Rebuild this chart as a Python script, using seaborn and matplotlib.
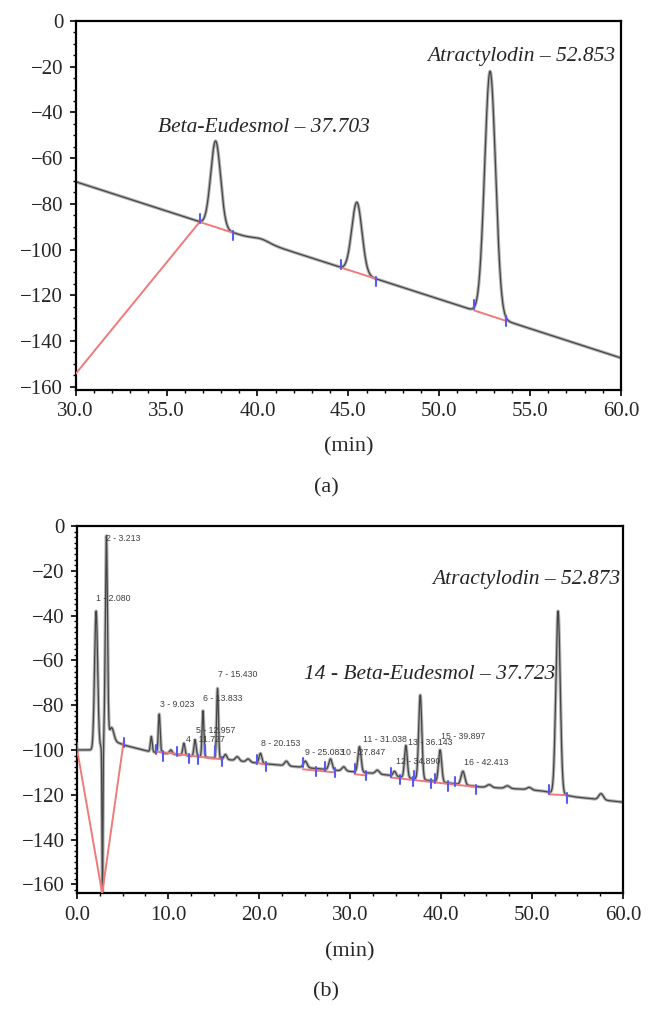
import numpy as np
import pandas as pd
import seaborn as sns
import matplotlib
matplotlib.use('Agg')
import matplotlib.pyplot as plt
from matplotlib.ticker import MultipleLocator, FormatStrFormatter

# ---- panel (a): standards ----
a_base_t = [30.0, 40.0, 60.0]
a_base_v = [-70.3, -96.0, -147.4]
a_peak_rt = [37.70, 40.2, 45.47, 52.80]
a_peak_top = [-52.5, -95.3, -79.3, -22.0]
a_peak_sd = [0.27, 0.45, 0.28, 0.30]
a_red = [[(30.0, -154.3), (36.82, -87.9), (38.65, -92.6)],
         [(44.57, -107.8), (46.50, -112.7)],
         [(51.92, -126.6), (53.69, -131.2)]]
a_mark_start = [36.82, 44.57, 51.92]
a_mark_end = [38.65, 46.50, 53.69]

# ---- panel (b): sample ----
b_base_t = [0.0, 2.0, 4.0, 5.3, 8.0, 12.0, 16.0, 19.0, 23.6, 28.2, 32.8,
            37.4, 44.3, 48.9, 51.1, 54.8, 60.0]
b_base_v = [-100.0, -100.0, -96.0, -98.0, -100.8, -102.5, -104.0, -105.5,
            -107.3, -109.0, -110.5, -113.0, -116.5, -117.5, -118.3, -121.0, -123.3]
b_peak_rt = [2.08, 2.78, 3.21, 3.75, 8.15, 9.02, 10.3, 11.73, 12.96, 13.83,
             15.43, 16.3, 17.6, 18.8, 20.15, 23.0, 25.08, 27.85, 29.3, 31.04,
             33.0, 34.89, 36.14, 37.72, 39.90, 42.41, 45.3, 47.3, 49.7, 52.87, 57.6]
b_peak_top = [-38.0, -168.0, -5.0, -90.0, -94.0, -84.0, -100.0, -97.0, -95.5, -82.5,
              -72.5, -102.0, -103.0, -104.0, -101.5, -105.0, -105.0, -104.0, -107.5, -98.5,
              -109.0, -109.5, -98.0, -75.5, -100.0, -109.5, -115.5, -116.0, -116.7, -38.0, -119.5]
b_peak_sd = [0.17, 0.05, 0.12, 0.25, 0.10, 0.10, 0.15, 0.12, 0.12, 0.10,
             0.10, 0.15, 0.20, 0.20, 0.15, 0.20, 0.20, 0.18, 0.20, 0.17,
             0.20, 0.15, 0.15, 0.17, 0.17, 0.20, 0.25, 0.25, 0.25, 0.24, 0.25]
b_red = [[(0.0, -100.0), (2.75, -164.0), (5.1, -96.5)],
         [(8.85, -100.8), (15.9, -104.2)],
         [(19.8, -105.8), (20.8, -106.6)],
         [(24.8, -108.6), (28.3, -110.0)],
         [(30.5, -110.8), (31.8, -111.4)],
         [(34.5, -112.3), (43.8, -116.5)],
         [(51.9, -119.8), (53.9, -120.2)]]
b_mark_start = [0.0, 5.1, 8.7, 11.0, 15.2, 19.8, 24.8, 27.2, 30.5, 34.5, 37.0,
                39.3, 41.5, 51.9]
b_mark_end = [9.4, 12.3, 13.3, 14.0, 15.9, 20.8, 26.3, 28.3, 31.8, 35.5, 36.9,
              38.9, 40.8, 43.8, 53.8]
b_labels = ['1 - 2.080', '2 - 3.213', '3 - 9.023', '4 - 11.727', '5 - 12.957',
            '6 - 13.833', '7 - 15.430', '8 - 20.153', '9 - 25.083', '10 - 27.847',
            '11 - 31.038', '12 - 34.890', '13 - 36.143', '15 - 39.897', '16 - 42.413']
b_label_x = [2.07, 3.21, 9.08, 11.92, 13.06, 13.85, 15.46, 20.18, 25.0, 29.05,
             31.4, 35.09, 36.37, 40.0, 42.55]
b_label_y = [-32.3, -5.8, -79.5, -95.2, -91.4, -77.2, -66.5, -97.3, -101.0, -101.0,
             -95.5, -105.2, -96.8, -93.8, -105.5]

sns.set_style('ticks')
plt.rcParams['font.family'] = ['Liberation Serif', 'DejaVu Serif']
plt.rcParams['axes.unicode_minus'] = True


def make_trace(t, base_t, base_v, rt, top, sd):
    sig = np.interp(t, base_t, base_v)
    for r, h, s in zip(rt, top, sd):
        height = h - np.interp(r, base_t, base_v)
        sig = sig + height * np.exp(-0.5 * ((t - r) / s) ** 2)
    return sig


def draw_panel(ax, t, sig, red, m_start, m_end):
    df = pd.DataFrame({'t': t, 'v': sig})
    sns.lineplot(data=df, x='t', y='v', ax=ax, color='#b4b4b4', lw=2.4,
                 estimator=None, sort=False)
    sns.lineplot(data=df, x='t', y='v', ax=ax, color='#454545', lw=0.9,
                 estimator=None, sort=False)
    for seg in red:
        xs, ys = zip(*seg)
        ax.plot(xs, ys, color='#f07a7a', lw=1.4, zorder=3)
    for m in m_start:
        v = np.interp(m, t, sig)
        ax.plot([m, m], [v - 0.8, v + 3.2], color='#5a5af0', lw=1.5, zorder=4)
    for m in m_end:
        v = np.interp(m, t, sig)
        ax.plot([m, m], [v + 0.8, v - 3.4], color='#5a5af0', lw=1.5, zorder=4)


def style_axes(ax, xlim, ylim, xmajor, xminor, yminor):
    ax.set_xlim(*xlim)
    ax.set_ylim(*ylim)
    ax.set_xlabel('')
    ax.set_ylabel('')
    ax.xaxis.set_major_locator(MultipleLocator(xmajor))
    ax.xaxis.set_major_formatter(FormatStrFormatter('%.1f'))
    ax.yaxis.set_major_locator(MultipleLocator(20))
    ax.xaxis.set_minor_locator(MultipleLocator(xminor))
    ax.yaxis.set_minor_locator(MultipleLocator(yminor))
    ax.tick_params(which='major', direction='out', length=4, width=1.2,
                   labelsize=15, color='black', pad=5)
    ax.tick_params(which='minor', direction='out', length=2.5, width=1.0, color='black')
    for sp in ax.spines.values():
        sp.set_visible(True)
        sp.set_linewidth(1.6)
        sp.set_color('black')


fig = plt.figure(figsize=(6.53, 10.35), dpi=100)
ax_a = fig.add_axes([0.1159, 0.6232, 0.8351, 0.3565])
ax_b = fig.add_axes([0.1182, 0.1369, 0.8357, 0.3549])

t_a = np.linspace(30, 60, 3001)
sig_a = make_trace(t_a, a_base_t, a_base_v, a_peak_rt, a_peak_top, a_peak_sd)
draw_panel(ax_a, t_a, sig_a, a_red, a_mark_start, a_mark_end)
style_axes(ax_a, (30, 60), (-161.4, 0), 5, 1, 5)
ax_a.text(34.51, -46.4, 'Beta-Eudesmol – 37.703', fontsize=15.5, style='italic',
          ha='left', va='center')
ax_a.text(59.69, -15.6, 'Atractylodin – 52.853', fontsize=15.5, style='italic',
          ha='right', va='center')

t_b = np.linspace(0, 60, 12001)
sig_b = make_trace(t_b, b_base_t, b_base_v, b_peak_rt, b_peak_top, b_peak_sd)
draw_panel(ax_b, t_b, sig_b, b_red, b_mark_start, b_mark_end)
style_axes(ax_b, (0, 60), (-164, 0), 10, 2.5, 2.5)
for lab, x, y in zip(b_labels, b_label_x, b_label_y):
    ax_b.text(x, y, lab, fontsize=6.3, family=['Liberation Sans', 'DejaVu Sans'],
              color='#404040', ha='left', va='center', zorder=5)
ax_b.text(24.9, -66.1, '14 - Beta-Eudesmol – 37.723', fontsize=15.5, style='italic',
          ha='left', va='center')
ax_b.text(59.72, -24.1, 'Atractylodin – 52.873', fontsize=15.5, style='italic',
          ha='right', va='center')

fig.text(348.4 / 653, 1 - 447 / 1035, '(min)', fontsize=16, ha='center', va='center')
fig.text(0.5, 1 - 487.5 / 1035, '(a)', fontsize=16, ha='center', va='center')
fig.text(350 / 653, 1 - 951.7 / 1035, '(min)', fontsize=16, ha='center', va='center')
fig.text(0.5, 1 - 991.7 / 1035, '(b)', fontsize=16, ha='center', va='center')

fig.savefig('out.png', dpi=100)
